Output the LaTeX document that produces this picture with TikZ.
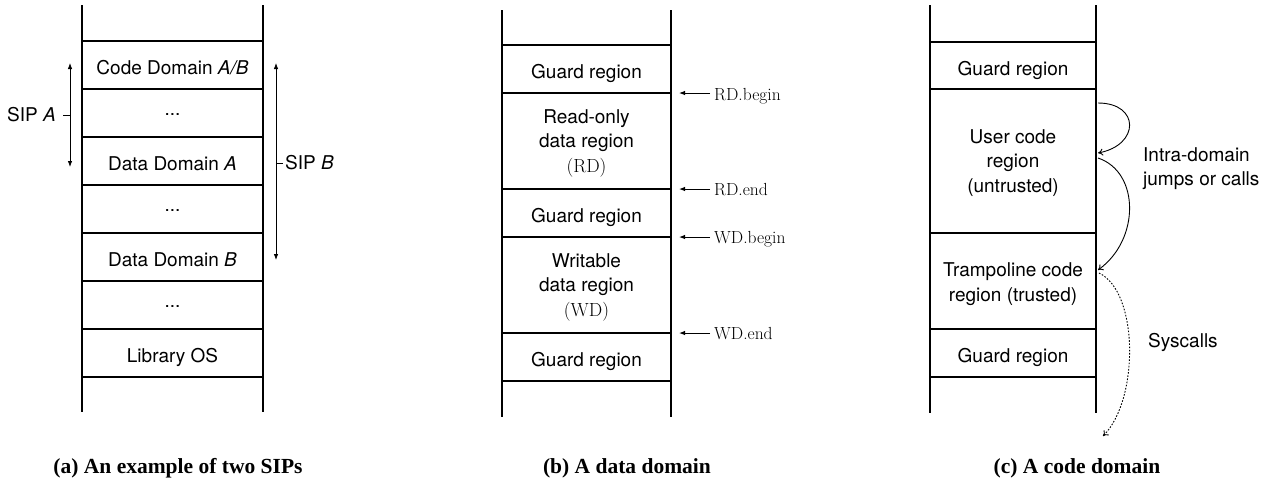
\documentclass[tikz,border=0pt]{standalone}
\usepackage{fontspec}
\newfontfamily\hv{TeX Gyre Heros}
\newfontfamily\capfont{Liberation Serif}
\usetikzlibrary{arrows.meta}
\begin{document}
\begin{tikzpicture}[x=1pt,y=-1pt,
  ladder/.style={line width=2.5pt},
  divider/.style={line width=2.2pt},
  region/.style={font=\hv\fontsize{19}{24.5}\selectfont, align=center, inner sep=0pt},
  regbase/.style={region, anchor=base},
  addr/.style={font=\fontsize{17.5}{20}\selectfont, anchor=base west, inner sep=0pt},
  ptr/.style={-{Latex[length=6pt,width=4.5pt]}, line width=1pt},
  sip/.style={{Latex[length=6pt,width=4.5pt]}-{Latex[length=6pt,width=4.5pt]}, line width=0.8pt},
  jump/.style={-{To[length=5pt,width=7pt]}, line width=0.9pt},
  syscall/.style={-{To[length=5pt,width=7pt]}, line width=0.9pt, dash pattern=on 1.6pt off 1.6pt},
  subcap/.style={font=\capfont\bfseries\fontsize{21.5}{24}\selectfont, inner sep=0pt}
]
\useasboundingbox (0,0) rectangle (1279,485);

% ---------------- Panel (a) ----------------
\draw[ladder] (82,5) -- (82,412);
\draw[ladder] (263,5) -- (263,412);
\foreach \y in {41,89,137,185,233,281,329,377}
  \draw[divider] (82,\y) -- (263,\y);

\node[regbase] (cdab) at (172.5,74.5) {Code Domain \textit{A/B}};
\node[region]  (dotsa) at (172.5,115) {...};
\node[regbase] (dda) at (172.5,170.5) {Data Domain \textit{A}};
\node[region]  (dotsb) at (172.5,211) {...};
\node[regbase] (ddb) at (172.5,266.5) {Data Domain \textit{B}};
\node[region]  (dotsc) at (172.5,307) {...};
\node[regbase] (los) at (172.5,362.5) {Library OS};

% SIP A bracket
\coordinate (sipAt) at (70,63);
\coordinate (sipAb) at (70,167);
\coordinate (sipAm) at (70,115);
\draw[sip] (sipAt) -- (sipAb);
\node[region, anchor=east] (sipA) at (56,115) {SIP \textit{A}};
\draw[line width=0.8pt] ([xshift=7pt]sipA.east |- sipAm) -- (sipAm);

% SIP B bracket
\coordinate (sipBt) at (276,63);
\coordinate (sipBb) at (276,260);
\coordinate (sipBm) at (276,163);
\draw[sip] (sipBt) -- (sipBb);
\node[region, anchor=west] (sipB) at (285,163) {SIP \textit{B}};
\draw[line width=0.8pt] (sipBm) -- ([xshift=-2pt]sipB.west |- sipBm);

\node[subcap] (capa) at (178,468) {(a) An example of two SIPs};

% ---------------- Panel (b) ----------------
\draw[ladder] (502,10) -- (502,417);
\draw[ladder] (671,10) -- (671,417);
\foreach \y in {45,93,189,237,333,381}
  \draw[divider] (502,\y) -- (671,\y);

\node[regbase] (bg1) at (586.5,78.5) {Guard region};
\node[region]  (rd) at (586.5,143) {Read-only\\data region\\{\rmfamily (RD)}};
\node[regbase] (bg2) at (586.5,222.5) {Guard region};
\node[region]  (wd) at (586.5,287) {Writable\\data region\\{\rmfamily (WD)}};
\node[regbase] (bg3) at (586.5,366.5) {Guard region};

\coordinate (prdb) at (679,93);
\coordinate (prde) at (679,189);
\coordinate (pwdb) at (679,237);
\coordinate (pwde) at (679,333);
\node[addr] (lrdb) at (714,100) {RD.begin};
\node[addr] (lrde) at (714,195.5) {RD.end};
\node[addr] (lwdb) at (714,243.5) {WD.begin};
\node[addr] (lwde) at (714,339.5) {WD.end};
\draw[ptr] ([xshift=-4pt]lrdb.west |- prdb) -- (prdb);
\draw[ptr] ([xshift=-4pt]lrde.west |- prde) -- (prde);
\draw[ptr] ([xshift=-4pt]lwdb.west |- pwdb) -- (pwdb);
\draw[ptr] ([xshift=-4pt]lwde.west |- pwde) -- (pwde);

\node[subcap] (capb) at (627,468) {(b) A data domain};

% ---------------- Panel (c) ----------------
\draw[ladder] (930,5) -- (930,413);
\draw[ladder] (1096,5) -- (1096,413);
\foreach \y in {42,89,233,329,377}
  \draw[divider] (930,\y) -- (1096,\y);

\node[regbase] (cg1) at (1013,75) {Guard region};
\node[region]  (uc) at (1013,163) {User code\\region\\(untrusted)};
\node[region]  (tr) at (1013,284) {Trampoline code\\region (trusted)};
\node[regbase] (cg2) at (1013,362.5) {Guard region};

\coordinate (j1s) at (1098,103);
\coordinate (j1e) at (1098,153);
\coordinate (j2s) at (1098,158);
\coordinate (j2e) at (1098,270);
\coordinate (sys) at (1099,273);
\coordinate (syse) at (1103,436);
\draw[jump] (j1s) .. controls (1140,103) and (1140,145) .. (j1e);
\draw[jump] (j2s) .. controls (1140,172) and (1140,240) .. (j2e);
\draw[syscall] (sys) .. controls (1139,292) and (1139,400) .. (syse);

\node[region, anchor=west, align=left] (intra) at (1143,168.4) {Intra-domain\\jumps or calls};
\node[regbase, anchor=base west] (sysl) at (1148,347) {Syscalls};

\node[subcap] (capc) at (1077,468) {(c) A code domain};
\end{tikzpicture}
\end{document}
